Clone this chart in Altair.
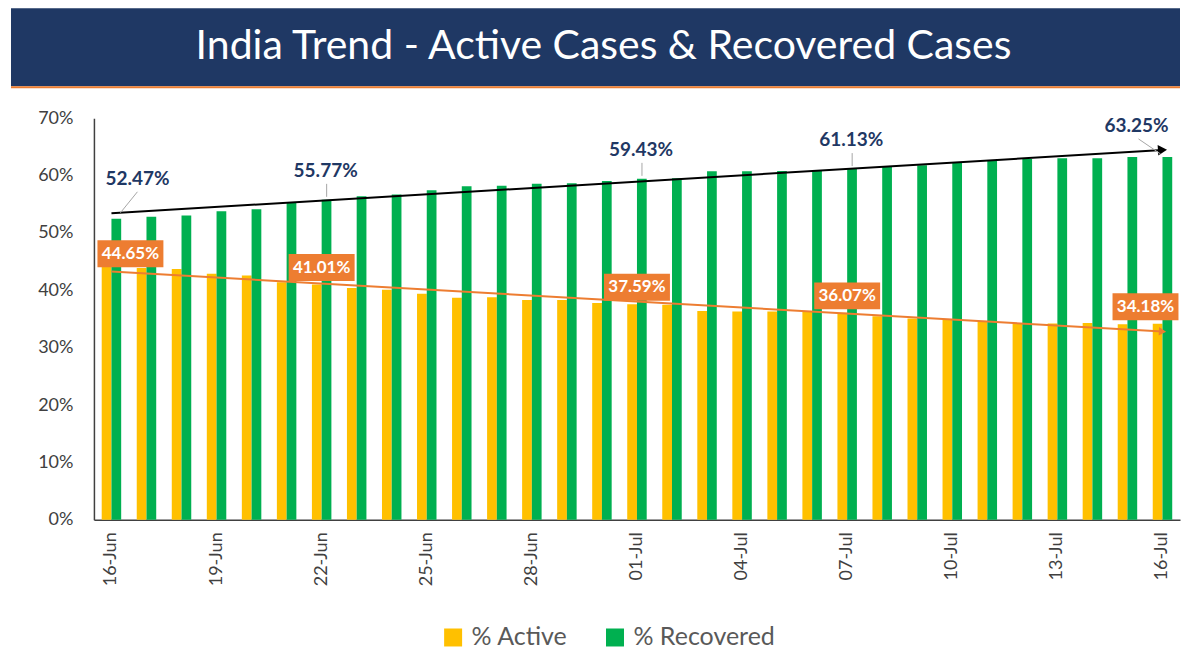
import altair as alt
import pandas as pd

# ---------------- data ----------------
days = ["16-Jun", "17-Jun", "18-Jun", "19-Jun", "20-Jun", "21-Jun", "22-Jun", "23-Jun",
        "24-Jun", "25-Jun", "26-Jun", "27-Jun", "28-Jun", "29-Jun", "30-Jun",
        "01-Jul", "02-Jul", "03-Jul", "04-Jul", "05-Jul", "06-Jul", "07-Jul", "08-Jul",
        "09-Jul", "10-Jul", "11-Jul", "12-Jul", "13-Jul", "14-Jul", "15-Jul", "16-Jul"]

active = [44.65, 43.9, 43.7, 42.9, 42.6, 41.4, 41.01, 40.4, 40.1, 39.4, 38.7, 38.8, 38.3,
          38.3, 37.8, 37.59, 37.5, 36.4, 36.3, 36.3, 36.2, 36.07, 35.5, 35.1, 34.9, 34.5,
          34.3, 34.2, 34.3, 34.1, 34.18]

recovered = [52.47, 52.80, 53.04, 53.79, 54.13, 55.2, 55.77, 56.38, 56.71, 57.43, 58.13,
             58.24, 58.56, 58.67, 59.07, 59.43, 59.52, 60.73, 60.77, 60.81, 60.86, 61.13,
             61.53, 61.8, 62.2, 62.6, 62.9, 63.00, 63.02, 63.24, 63.25]

tick_days = days[::3]
label_first = [0]
label_mid = [6, 15, 21]
label_last = [30]

series_names = ["% Active", "% Recovered"]
series_colors = ["#FFC000", "#00B050"]
title_text = "India Trend - Active Cases & Recovered Cases"

# ---------------- styling ----------------
NAVY = "#1F3864"
ORANGE = "#ED7D31"
AXIS_GRAY = "#404040"
LEADER = "#A6A6A6"
FONT = "Lato"
W, H = 1087, 402

rows = []
for i, d in enumerate(days):
    rows.append({"idx": i, "day": d, "series": series_names[0], "pct": active[i]})
    rows.append({"idx": i, "day": d, "series": series_names[1], "pct": recovered[i]})
df = pd.DataFrame(rows)

yaxis = alt.Axis(values=list(range(0, 71, 10)), labelExpr="datum.value + '%'",
                 grid=False, ticks=False, domainColor=AXIS_GRAY, domainWidth=1.5,
                 labelFont=FONT, labelFontSize=18, labelColor=AXIS_GRAY,
                 labelPadding=21, title=None)
yscale = alt.Scale(domain=[0, 70], nice=False, zero=True)
Y = alt.Y("pct:Q", scale=yscale, axis=yaxis)
xq = alt.X("idx:Q", scale=alt.Scale(domain=[-0.5, len(days) - 0.5], nice=False, zero=False),
           axis=None)

bars = alt.Chart(df).mark_bar().encode(
    x=alt.X("day:O", sort=days,
            scale=alt.Scale(domain=days, paddingInner=0.444, paddingOuter=0.222),
            axis=alt.Axis(values=tick_days, labelAngle=-90, ticks=False,
                          domainColor=AXIS_GRAY, domainWidth=1.5, labelFont=FONT,
                          labelFontSize=18, labelColor=AXIS_GRAY, labelPadding=12,
                          title=None)),
    xOffset=alt.XOffset("series:N", sort=series_names,
                        scale=alt.Scale(domain=series_names, paddingInner=0, paddingOuter=0)),
    y=Y,
    color=alt.Color("series:N",
                    scale=alt.Scale(domain=series_names, range=series_colors),
                    legend=alt.Legend(orient="none", legendX=347, legendY=507,
                                      direction="horizontal", title=None,
                                      symbolType="square", symbolSize=324,
                                      symbolStrokeWidth=0, symbolOpacity=1,
                                      labelFont=FONT, labelFontSize=25,
                                      labelColor="#595959", columnPadding=34,
                                      labelOffset=6, padding=0)),
)


def trend(series, color, angle, size):
    base = (alt.Chart(df)
            .transform_filter(alt.datum.series == series)
            .transform_regression("idx", "pct"))
    line = base.mark_line(color=color, strokeWidth=2).encode(x=xq, y=Y)
    head = (base.transform_filter(f"datum.idx > {len(days) - 2}")
            .mark_point(shape="triangle-right", filled=True, color=color, opacity=1,
                        size=size, angle=angle, strokeWidth=0)
            .encode(x=xq, y=Y))
    return [line, head]


def rec_base(indices):
    return (alt.Chart(df)
            .transform_filter(alt.datum.series == series_names[1])
            .transform_filter(alt.FieldOneOfPredicate(field="idx", oneOf=indices))
            .transform_calculate(label="format(datum.pct, '.2f') + '%'"))


def rec_label(indices, dx, dy, leader):
    base = rec_base(indices)
    x0, y0, x1, y1 = leader
    line = base.mark_rule(color=LEADER, strokeWidth=1, xOffset=x0, yOffset=y0,
                          x2Offset=x1, y2Offset=y1).encode(
        x=xq, x2="idx:Q", y=Y, y2="pct:Q")
    txt = base.mark_text(font=FONT, fontSize=19, fontWeight="bold", color=NAVY,
                         dx=dx, dy=dy, baseline="middle", align="center").encode(
        x=xq, y=Y, text="label:N")
    return [line, txt]


def act_label(indices, dx, dy):
    hw, hh = 33, 13.5
    path = (f"M{(dx - hw) / 10},{(dy - hh) / 10}H{(dx + hw) / 10}"
            f"V{(dy + hh) / 10}H{(dx - hw) / 10}Z")
    base = (alt.Chart(df)
            .transform_filter(alt.datum.series == series_names[0])
            .transform_filter(alt.FieldOneOfPredicate(field="idx", oneOf=indices))
            .transform_calculate(label="format(datum.pct, '.2f') + '%'"))
    box = base.mark_point(shape=path, size=400, filled=True, color=ORANGE, opacity=1,
                          strokeWidth=0).encode(x=xq, y=Y)
    txt = base.mark_text(font=FONT, fontSize=17, fontWeight="bold", color="white",
                         dx=dx, dy=dy, baseline="middle", align="center").encode(
        x=xq, y=Y, text="label:N")
    return [box, txt]


one = pd.DataFrame({"k": [0]})
banner = alt.Chart(one).mark_rect(color=NAVY).encode(
    x=alt.value(-83), x2=alt.value(W), y=alt.value(-110), y2=alt.value(-32))
underline = alt.Chart(one).mark_rule(color=ORANGE, strokeWidth=2).encode(
    x=alt.value(-83), x2=alt.value(W), y=alt.value(-31))
title = alt.Chart(one).mark_text(text=title_text, font=FONT, fontSize=41, color="white",
                                 align="center", baseline="middle").encode(
    x=alt.value(510), y=alt.value(-71))

layers = [banner, underline, title, bars]
layers += trend(series_names[1], "black", 356.6, 110)
layers += trend(series_names[0], ORANGE, 3.3, 70)
layers += rec_label(label_first, 26, -40, (26, -27, 9, -6))
layers += rec_label(label_mid, 4, -29, (5, -16, 5, -3))
layers += rec_label(label_last, -26, -31, (-24, -18, -2, -3))
layers += act_label(label_first, 19, -10)
layers += act_label(label_mid, 0, -17)
layers += act_label(label_last, -17, -17)

chart = (alt.layer(*layers)
         .resolve_scale(x="independent")
         .properties(width=W, height=H,
                     padding={"left": 2, "top": 0, "right": 0, "bottom": 0},
                     background="white")
         .configure_view(stroke=None))

chart.save("out.html", embed_options={"renderer": "svg", "actions": False})
